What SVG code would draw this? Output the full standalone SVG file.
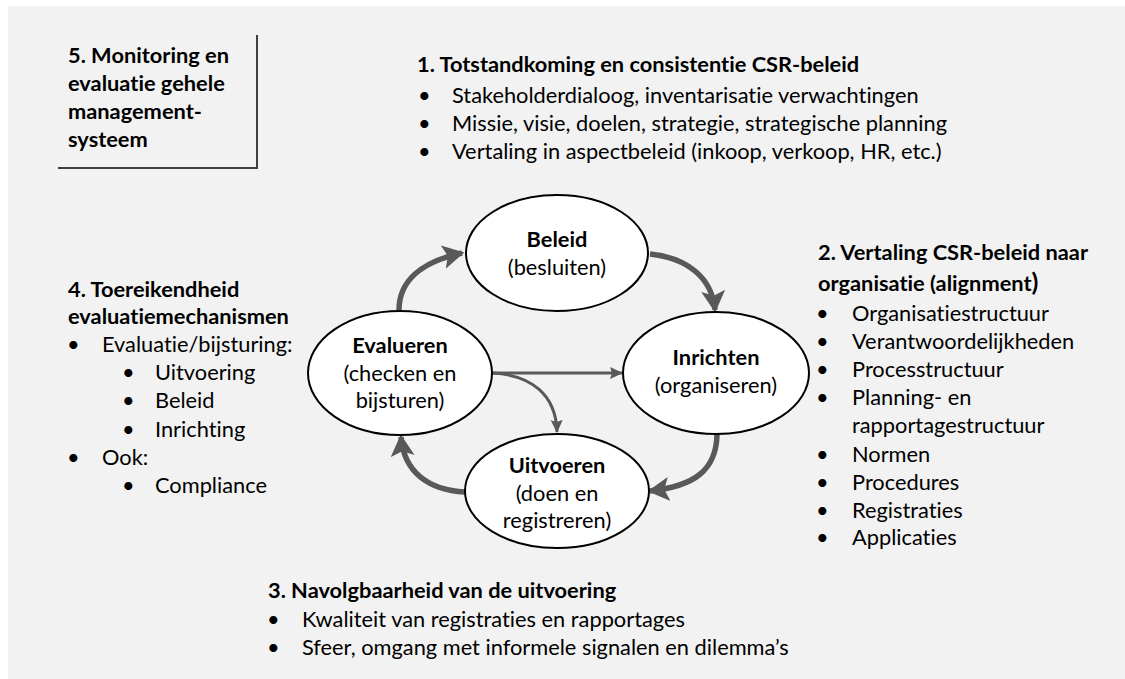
<svg xmlns="http://www.w3.org/2000/svg" width="1125" height="679" viewBox="0 0 1125 679">
<style>
text{font-family:Lato,"Liberation Sans",sans-serif;fill:#000;font-size:21.8px;font-variant-ligatures:none}
.b{font-weight:bold}
.c{text-anchor:middle}
.node{fill:#fff;stroke:#000;stroke-width:2}
.thick{fill:none;stroke:#595959;stroke-width:5.5}
.thin{fill:none;stroke:#595959;stroke-width:3}
</style>
<defs>
<marker id="ah" markerUnits="userSpaceOnUse" markerWidth="24" markerHeight="24" refX="16" refY="10" orient="auto" viewBox="0 0 20 20">
<path d="M0,0 L18,10 L0,20 L4,10 Z" fill="#595959"/>
</marker>
<marker id="as" markerUnits="userSpaceOnUse" markerWidth="14" markerHeight="14" refX="12" refY="7" orient="auto" viewBox="0 0 14 14">
<path d="M0,1 L13,7 L0,13 L2,7 Z" fill="#595959"/>
</marker>
</defs>
<rect x="8" y="6" width="1117" height="673" fill="#f2f2f2"/>

<g id="box5">
<path d="M257,35 V168 H58" fill="none" stroke="#404040" stroke-width="2"/>
<text class="b" x="68" y="63">5. Monitoring en</text>
<text class="b" x="68" y="91">evaluatie gehele</text>
<text class="b" x="68" y="119">management-</text>
<text class="b" x="68" y="147">systeem</text>
</g>

<g id="section1">
<text class="b" x="417" y="72">1. Totstandkoming en consistentie CSR-beleid</text>
<text x="418" y="103">•</text><text x="452" y="103">Stakeholderdialoog, inventarisatie verwachtingen</text>
<text x="418" y="131">•</text><text x="452" y="131">Missie, visie, doelen, strategie, strategische planning</text>
<text x="418" y="159">•</text><text x="452" y="159">Vertaling in aspectbeleid (inkoop, verkoop, HR, etc.)</text>
</g>

<g id="section2">
<text class="b" x="818" y="260">2. Vertaling CSR-beleid naar</text>
<text class="b" x="818" y="291">organisatie (alignment<tspan font-size="25">)</tspan></text>
<text x="816" y="321">•</text><text x="852" y="321">Organisatiestructuur</text>
<text x="816" y="349">•</text><text x="852" y="349">Verantwoordelijkheden</text>
<text x="816" y="377">•</text><text x="852" y="377">Processtructuur</text>
<text x="816" y="405">•</text><text x="852" y="405">Planning- en</text>
<text x="852" y="433">rapportagestructuur</text>
<text x="816" y="462">•</text><text x="852" y="462">Normen</text>
<text x="816" y="490">•</text><text x="852" y="490">Procedures</text>
<text x="816" y="518">•</text><text x="852" y="518">Registraties</text>
<text x="816" y="545">•</text><text x="852" y="545">Applicaties</text>
</g>

<g id="section3">
<text class="b" x="268" y="598">3. Navolgbaarheid van de uitvoering</text>
<text x="267" y="627">•</text><text x="302" y="627">Kwaliteit van registraties en rapportages</text>
<text x="267" y="655">•</text><text x="302" y="655">Sfeer, omgang met informele signalen en dilemma’s</text>
</g>

<g id="section4">
<text class="b" x="68" y="297">4. Toereikendheid</text>
<text class="b" x="68" y="324">evaluatiemechanismen</text>
<text x="67" y="352">•</text><text x="102" y="352">Evaluatie/bijsturing:</text>
<text x="122" y="380">•</text><text x="155" y="380">Uitvoering</text>
<text x="122" y="408">•</text><text x="155" y="408">Beleid</text>
<text x="122" y="437">•</text><text x="155" y="437">Inrichting</text>
<text x="67" y="465">•</text><text x="102" y="465">Ook:</text>
<text x="122" y="493">•</text><text x="155" y="493">Compliance</text>
</g>

<g id="connectors">
<path class="thick" d="M399,310 C399,282 420,262 462,253" marker-end="url(#ah)"/>
<path class="thick" d="M650,254 C688,258 712,278 715,310" marker-end="url(#ah)"/>
<path class="thick" d="M717,435 C716,470 695,486 650,491" marker-end="url(#ah)"/>
<path class="thick" d="M465,492 C428,490 404,472 401,437" marker-end="url(#ah)"/>
<path class="thin" d="M492,373 L622,373" marker-end="url(#as)"/>
<path class="thin" d="M492,373 C532,375 556,395 557,432" marker-end="url(#as)"/>
</g>

<g id="beleid">
<ellipse class="node" cx="557" cy="253" rx="91" ry="58"/>
<text class="b c" x="557" y="247">Beleid</text>
<text class="c" x="557" y="275">(besluiten)</text>
</g>
<g id="evalueren">
<ellipse class="node" cx="400" cy="373" rx="92" ry="62"/>
<text class="b c" x="400" y="353">Evalueren</text>
<text class="c" x="400" y="381">(checken en</text>
<text class="c" x="400" y="408">bijsturen)</text>
</g>
<g id="inrichten">
<ellipse class="node" cx="716" cy="373" rx="93" ry="61"/>
<text class="b c" x="716" y="365">Inrichten</text>
<text class="c" x="716" y="393">(organiseren)</text>
</g>
<g id="uitvoeren">
<ellipse class="node" cx="557" cy="491" rx="92" ry="57"/>
<text class="b c" x="557" y="473">Uitvoeren</text>
<text class="c" x="557" y="501">(doen en</text>
<text class="c" x="557" y="528">registreren)</text>
</g>
</svg>
